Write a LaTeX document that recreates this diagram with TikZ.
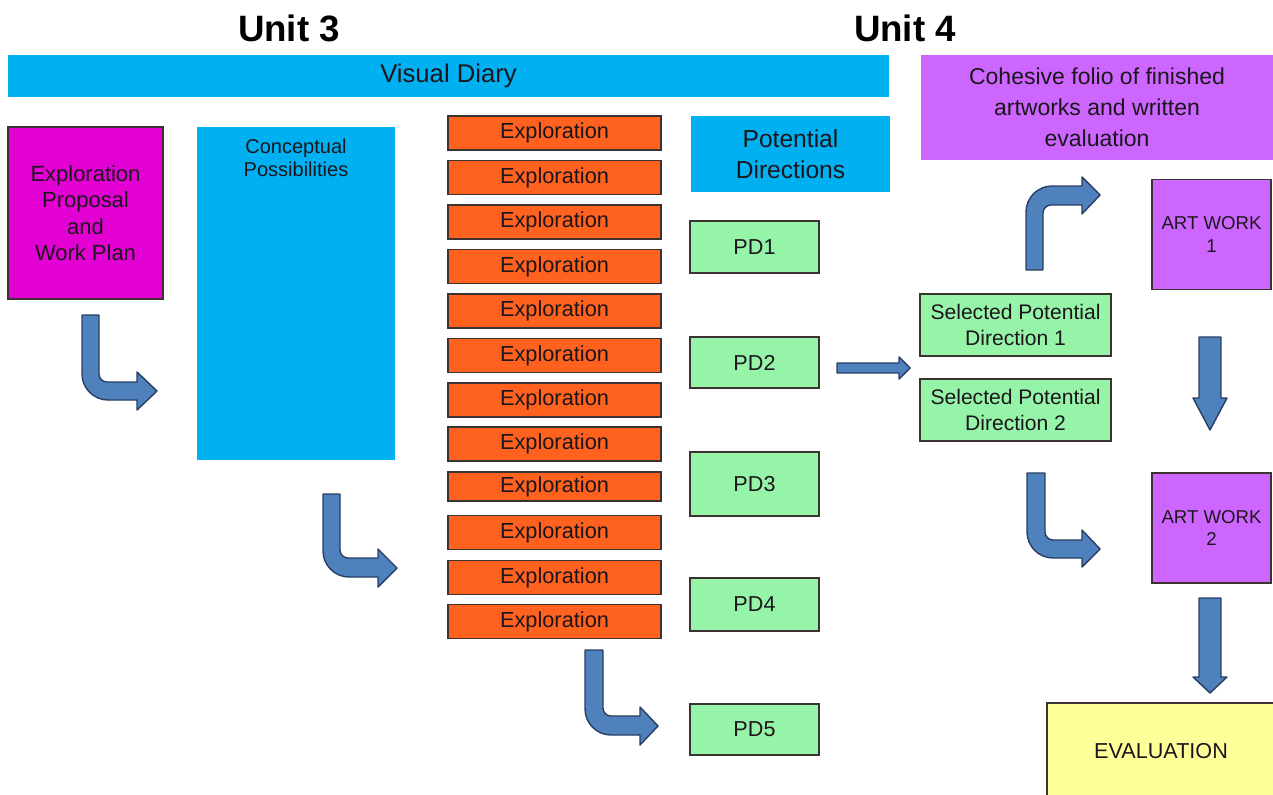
\documentclass[tikz,border=0pt]{standalone}
\usepackage{fontspec}
\setmainfont{Liberation Sans}
\usetikzlibrary{positioning}

\definecolor{diarycyan}{RGB}{0,176,240}
\definecolor{folioviolet}{RGB}{204,102,255}
\definecolor{proposalpink}{RGB}{226,0,210}
\definecolor{explorange}{RGB}{255,98,30}
\definecolor{pdgreen}{RGB}{150,244,168}
\definecolor{evalyellow}{RGB}{255,255,153}
\definecolor{arrowblue}{RGB}{79,129,189}
\definecolor{arrowedge}{RGB}{40,62,100}
\definecolor{textdark}{RGB}{28,22,28}
\definecolor{edgedark}{RGB}{60,50,50}

\begin{document}
\begin{tikzpicture}[x=0.02cm, y=-0.02cm,
  box/.style={rectangle, inner sep=0pt, align=center, text=textdark},
  unittitle/.style={font=\fontsize{20.9}{24}\selectfont\bfseries},
  cyanbox/.style={box, fill=diarycyan},
  explbox/.style={box, fill=explorange, draw=edgedark, line width=0.7pt,
    minimum width=4.26cm, minimum height=0.68cm, font=\fontsize{12.4}{14}\selectfont},
  pdbox/.style={box, fill=pdgreen, draw=edgedark, line width=0.7pt,
    minimum width=2.58cm, font=\fontsize{12.3}{14}\selectfont},
  selbox/.style={box, fill=pdgreen, draw=edgedark, line width=0.7pt,
    minimum width=3.82cm, minimum height=1.24cm, font=\fontsize{12}{14.8}\selectfont},
  artbox/.style={box, fill=folioviolet, draw=edgedark, line width=0.7pt,
    minimum width=2.38cm, minimum height=2.2cm, font=\fontsize{10.6}{13}\selectfont},
  blockarrow/.style={fill=arrowblue, draw=arrowedge, line width=0.8pt, line join=round}]
\useasboundingbox (0,0) rectangle (1273,794);

% headings
\node (unit3) at (289,28) [unittitle] {Unit 3};
\node (unit4) at (905,28) [unittitle] {Unit 4};

% top bars
\node (diary) at (448.5,76) [cyanbox, minimum width=17.62cm, minimum height=0.84cm,
  font=\fontsize{14.6}{17}\selectfont] {Visual Diary};
\node (folio) at (1097,107.5) [box, fill=folioviolet, minimum width=7.04cm, minimum height=2.1cm,
  font=\fontsize{13.1}{17.6}\selectfont] {Cohesive folio of finished\\artworks and written\\evaluation};

% unit 3 column
\node (proposal) at (85.5,213) [box, fill=proposalpink, draw=edgedark, line width=0.7pt,
  minimum width=3.1cm, minimum height=3.44cm, font=\fontsize{12.5}{15}\selectfont]
  {Exploration\\Proposal\\and\\Work Plan};
\node (concept) at (296,293.5) [cyanbox, minimum width=3.96cm, minimum height=6.66cm] {};
\node (concepttext) [below=0.24cm of concept.north, box, font=\fontsize{11.4}{13}\selectfont]
  {Conceptual\\Possibilities};

% exploration column
\foreach \ypos [count=\i] in {133,177.5,222,266.5,311,355.5,400,444,532.5,577.5,621.5}
  \node (expl\i) at (554.5,\ypos) [explbox] {Exploration};
\node (explshort) at (554.5,486.5) [explbox, minimum height=0.58cm] {Exploration};

% potential directions
\node (potential) at (790.5,154) [cyanbox, minimum width=3.98cm, minimum height=1.52cm,
  font=\fontsize{14}{17.6}\selectfont] {Potential\\Directions};
\node (pd1) at (754.5,247)   [pdbox, minimum height=1.04cm] {PD1};
\node (pd2) at (754.5,362.5) [pdbox, minimum height=1.02cm] {PD2};
\node (pd3) at (754.5,484)   [pdbox, minimum height=1.28cm] {PD3};
\node (pd4) at (754.5,604.5) [pdbox, minimum height=1.06cm] {PD4};
\node (pd5) at (754.5,729.5) [pdbox, minimum height=1.02cm] {PD5};

% unit 4
\node (sel1) at (1015.5,325) [selbox] {Selected Potential\\Direction 1};
\node (sel2) at (1015.5,410) [selbox] {Selected Potential\\Direction 2};
\node (art1) at (1211.5,234.5) [artbox] {ART WORK\\1};
\node (art2) at (1211.5,528) [artbox] {ART WORK\\2};
\node (evaluation) at (1161,751.5) [box, fill=evalyellow, draw=edgedark, line width=0.7pt,
  minimum width=4.56cm, minimum height=1.94cm, font=\fontsize{12.3}{14}\selectfont] {EVALUATION};

% bent arrows
\draw [blockarrow] (82,315) -- (82,374) .. controls (82,388.3) and (93.7,400) .. (108,400)
  -- (137,400) -- (137,410) -- (157,391) -- (137,372) -- (137,382) -- (107,382)
  .. controls (102.6,382) and (99,378.4) .. (99,374) -- (99,315) -- cycle;
\draw [blockarrow] (323,494) -- (323,551) .. controls (323,565.3) and (334.7,577) .. (349,577)
  -- (378,577) -- (378,587) -- (397,568) -- (378,549) -- (378,558) -- (348,558)
  .. controls (343.6,558) and (340,554.4) .. (340,550) -- (340,494) -- cycle;
\draw [blockarrow] (585,650) -- (585,709) .. controls (585,723.3) and (596.7,735) .. (611,735)
  -- (640,735) -- (640,745) -- (658,726) -- (640,707) -- (640,716) -- (611,716)
  .. controls (606.6,716) and (603,712.4) .. (603,708) -- (603,650) -- cycle;
\draw [blockarrow] (1026,270) -- (1026,212) .. controls (1026,197.7) and (1037.7,186) .. (1052,186)
  -- (1082,186) -- (1082,177) -- (1100,195) -- (1082,214) -- (1082,205) -- (1051,205)
  .. controls (1046.6,205) and (1043,208.6) .. (1043,213) -- (1043,270) -- cycle;
\draw [blockarrow] (1027,473) -- (1027,532) .. controls (1027,546.3) and (1038.7,558) .. (1053,558)
  -- (1082,558) -- (1082,567) -- (1100,549) -- (1082,530) -- (1082,540) -- (1053,540)
  .. controls (1048.6,540) and (1045,536.4) .. (1045,532) -- (1045,473) -- cycle;

% straight arrows
\draw [blockarrow] (837,363) -- (899,363) -- (899,357) -- (910,368) -- (899,379)
  -- (899,373) -- (837,373) -- cycle;
\draw [blockarrow] (1199,337) -- (1221,337) -- (1221,398) -- (1227,398) -- (1210,430)
  -- (1193,398) -- (1199,398) -- cycle;
\draw [blockarrow] (1199,598) -- (1221,598) -- (1221,677) -- (1227,677) -- (1210,693)
  -- (1193,677) -- (1199,677) -- cycle;
\end{tikzpicture}
\end{document}
